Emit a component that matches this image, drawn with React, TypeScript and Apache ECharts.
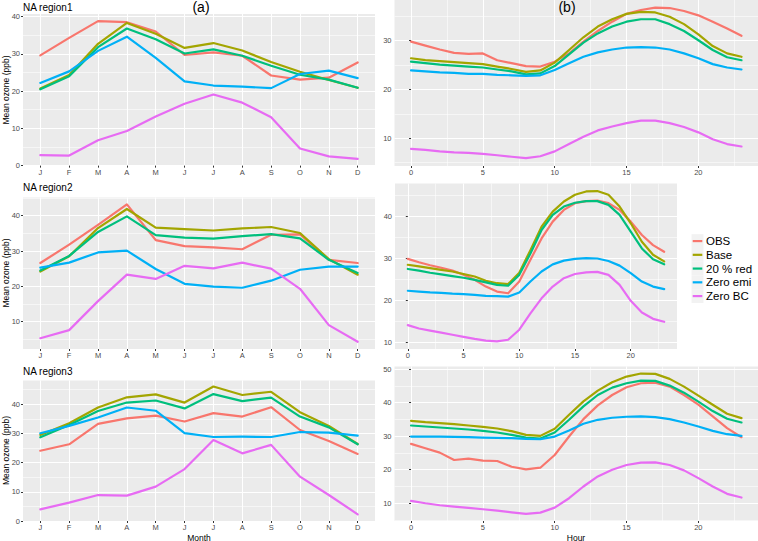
import React, { useEffect, useRef } from 'react';
import * as echarts from 'echarts';

const seriesNames = ['OBS', 'Base', '20 % red', 'Zero emi', 'Zero BC'];
const seriesColors = ['#F8766D', '#A3A500', '#00BF7D', '#00B0F6', '#E76BF3'];

const monthLabels = ['J', 'F', 'M', 'A', 'M', 'J', 'J', 'A', 'S', 'O', 'N', 'D'];
const months = [1, 2, 3, 4, 5, 6, 7, 8, 9, 10, 11, 12];
const hours = [0, 1, 2, 3, 4, 5, 6, 7, 8, 9, 10, 11, 12, 13, 14, 15, 16, 17, 18, 19, 20, 21, 22, 23];
const hourTicks = [0, 5, 10, 15, 20];
const hourMinorTicks = [2.5, 7.5, 12.5, 17.5, 22.5];

// (a) monthly means, NA region1
const r1mOBS = [29.6, 34.3, 38.8, 38.5, 36.0, 29.7, 30.4, 29.5, 24.2, 23.1, 23.6, 27.7];
const r1mBase = [20.7, 24.3, 32.7, 38.3, 35.4, 31.6, 32.9, 30.9, 27.8, 25.2, 23.0, 20.9];
const r1mRed = [20.5, 24.0, 31.8, 36.8, 33.9, 30.1, 31.2, 29.5, 26.8, 24.4, 23.1, 20.9];
const r1mEmi = [22.2, 25.3, 30.8, 34.6, 28.9, 22.6, 21.5, 21.2, 20.8, 24.6, 25.5, 23.5];
const r1mBC = [2.8, 2.7, 6.8, 9.3, 13.2, 16.6, 19.1, 16.9, 13.0, 4.6, 2.5, 1.8];

// (a) monthly means, NA region2
const r2mOBS = [26.6, 31.8, 37.4, 43.2, 33.1, 31.4, 31.0, 30.5, 34.6, 34.7, 27.5, 26.6];
const r2mBase = [24.2, 28.5, 36.5, 41.9, 36.6, 36.2, 35.8, 36.4, 36.8, 35.1, 27.7, 23.3];
const r2mRed = [24.5, 28.6, 35.4, 39.8, 34.5, 33.8, 33.5, 34.2, 34.8, 33.6, 27.5, 23.8];
const r2mEmi = [25.3, 26.7, 29.6, 30.1, 24.9, 20.7, 19.9, 19.6, 21.6, 24.7, 25.6, 25.6];
const r2mBC = [5.3, 7.6, 15.8, 23.3, 22.1, 25.8, 25.1, 26.7, 25.0, 19.3, 9.0, 4.3];

// (a) monthly means, NA region3
const r3mOBS = [24.1, 26.3, 33.3, 35.2, 36.1, 34.1, 37.0, 35.8, 39.0, 31.2, 27.4, 23.0];
const r3mBase = [29.5, 33.5, 38.9, 42.4, 43.4, 40.6, 46.1, 43.2, 44.3, 37.3, 32.6, 26.4];
const r3mRed = [28.7, 32.9, 37.7, 40.6, 41.3, 38.6, 43.5, 41.1, 42.3, 35.8, 32.1, 26.3];
const r3mEmi = [30.1, 32.6, 35.5, 38.9, 37.8, 30.1, 28.8, 28.9, 28.8, 30.5, 30.3, 29.3];
const r3mBC = [4.0, 6.3, 8.9, 8.7, 11.8, 17.8, 27.8, 23.2, 26.1, 15.2, 8.9, 2.3];

// (b) hourly means, NA region1
const r1hOBS = [29.8, 29.0, 28.2, 27.5, 27.3, 27.4, 26.0, 25.4, 24.8, 24.7, 25.7, 27.4, 29.8, 32.0, 33.9, 35.5, 36.3, 36.8, 36.7, 36.1, 35.2, 33.9, 32.5, 31.0];
const r1hBase = [26.4, 26.0, 25.8, 25.6, 25.4, 25.2, 24.7, 24.2, 23.6, 23.9, 25.5, 28.1, 30.7, 32.9, 34.4, 35.5, 35.9, 35.8, 34.9, 33.4, 31.3, 28.9, 27.4, 26.7];
const r1hRed = [25.7, 25.4, 25.1, 24.9, 24.7, 24.5, 24.1, 23.7, 23.1, 23.3, 24.8, 27.2, 29.6, 31.5, 32.9, 33.9, 34.4, 34.4, 33.4, 32.0, 30.1, 28.1, 26.6, 26.0];
const r1hEmi = [23.9, 23.7, 23.5, 23.4, 23.2, 23.2, 23.0, 22.9, 22.8, 22.9, 24.0, 25.4, 26.7, 27.6, 28.2, 28.6, 28.7, 28.6, 28.2, 27.4, 26.4, 25.2, 24.5, 24.1];
const r1hBC = [7.8, 7.6, 7.3, 7.1, 7.0, 6.8, 6.5, 6.2, 5.9, 6.3, 7.3, 8.8, 10.3, 11.6, 12.4, 13.1, 13.6, 13.6, 13.1, 12.3, 11.2, 9.8, 8.8, 8.3];

// (b) hourly means, NA region2
const r2hOBS = [29.9, 29.1, 28.4, 27.8, 27.1, 26.1, 24.9, 23.3, 22.1, 21.7, 24.5, 29.7, 34.8, 38.8, 41.6, 43.2, 43.7, 43.8, 43.2, 41.6, 38.8, 35.6, 33.2, 31.6];
const r2hBase = [28.5, 28.1, 27.7, 27.3, 26.9, 26.3, 25.7, 24.7, 24.1, 23.9, 26.6, 32.0, 37.6, 41.2, 43.6, 45.2, 46.0, 46.1, 45.2, 42.4, 38.4, 34.0, 30.9, 29.3];
const r2hRed = [27.5, 27.1, 26.6, 26.2, 25.8, 25.4, 24.9, 24.3, 23.7, 23.5, 26.1, 31.2, 36.8, 40.4, 42.4, 43.3, 43.7, 43.7, 42.8, 40.4, 36.4, 32.4, 29.8, 28.6];
const r2hEmi = [22.3, 22.1, 21.9, 21.8, 21.6, 21.5, 21.3, 21.1, 21.0, 20.9, 21.9, 24.5, 26.9, 28.6, 29.5, 29.9, 30.1, 30.0, 29.4, 28.3, 26.5, 24.5, 23.3, 22.7];
const r2hBC = [14.1, 13.3, 12.8, 12.3, 11.8, 11.3, 10.8, 10.4, 10.2, 10.6, 13.0, 16.9, 20.5, 23.3, 25.3, 26.3, 26.7, 26.8, 26.1, 23.7, 19.9, 17.1, 15.6, 14.9];

// (b) hourly means, NA region3
const r3hOBS = [27.7, 26.4, 25.1, 22.9, 23.3, 22.7, 22.6, 20.9, 20.1, 20.6, 24.4, 29.9, 35.1, 39.2, 42.3, 44.6, 45.8, 46.0, 44.8, 42.3, 39.4, 35.9, 32.4, 29.7];
const r3hBase = [34.6, 34.2, 33.9, 33.6, 33.2, 32.8, 32.3, 31.5, 30.4, 30.1, 32.2, 36.4, 40.4, 43.6, 46.1, 47.8, 48.7, 48.6, 47.1, 44.8, 42.1, 39.4, 36.7, 35.4];
const r3hRed = [33.2, 32.9, 32.6, 32.3, 32.0, 31.6, 31.1, 30.4, 29.6, 29.3, 31.1, 34.9, 38.9, 42.3, 44.5, 45.8, 46.6, 46.5, 45.1, 43.0, 40.3, 37.5, 35.2, 34.1];
const r3hEmi = [29.9, 29.9, 29.9, 29.8, 29.7, 29.6, 29.5, 29.4, 29.2, 29.1, 29.9, 31.7, 33.7, 34.9, 35.5, 35.8, 35.9, 35.7, 35.1, 34.1, 32.9, 31.6, 30.6, 30.1];
const r3hBC = [10.7, 10.0, 9.4, 9.0, 8.6, 8.2, 7.8, 7.3, 6.8, 7.2, 8.7, 11.5, 15.0, 18.0, 20.0, 21.4, 22.1, 22.2, 21.4, 19.8, 17.5, 15.0, 12.8, 11.7];

const FONT = 'Liberation Sans, Arial, Helvetica, sans-serif';

type Panel = {
  grid: { left: number; top: number; width: number; height: number };
  monthly: boolean;
  yRange: [number, number];
  yMajor: number[];
  yMinor: number[];
  values: number[][];
};

const panels: Panel[] = [
  { grid: { left: 23, top: 14, width: 352, height: 152 }, monthly: true, yRange: [-0.1, 40.7], yMajor: [0, 10, 20, 30, 40], yMinor: [5, 15, 25, 35], values: [r1mOBS, r1mBase, r1mRed, r1mEmi, r1mBC] },
  { grid: { left: 23, top: 197.5, width: 352, height: 151.5 }, monthly: true, yRange: [2.25, 45.15], yMajor: [10, 20, 30, 40], yMinor: [5, 15, 25, 35, 45], values: [r2mOBS, r2mBase, r2mRed, r2mEmi, r2mBC] },
  { grid: { left: 23, top: 380.4, width: 352, height: 140.6 }, monthly: true, yRange: [0, 48.2], yMajor: [0, 10, 20, 30, 40], yMinor: [5, 15, 25, 35, 45], values: [r3mOBS, r3mBase, r3mRed, r3mEmi, r3mBC] },
  { grid: { left: 394.5, top: 0, width: 363.5, height: 166 }, monthly: false, yRange: [4.3, 38.35], yMajor: [10, 20, 30], yMinor: [5, 15, 25, 35], values: [r1hOBS, r1hBase, r1hRed, r1hEmi, r1hBC] },
  { grid: { left: 395, top: 183.5, width: 282, height: 165.5 }, monthly: false, yRange: [8.4, 47.9], yMajor: [10, 20, 30, 40], yMinor: [15, 25, 35, 45], values: [r2hOBS, r2hBase, r2hRed, r2hEmi, r2hBC] },
  { grid: { left: 394.5, top: 366.5, width: 363.5, height: 154.5 }, monthly: false, yRange: [4.7, 50.8], yMajor: [10, 20, 30, 40, 50], yMinor: [5, 15, 25, 35, 45], values: [r3hOBS, r3hBase, r3hRed, r3hEmi, r3hBC] },
];

const GRID_BG = '#EBEBEB';
const MAJOR = { color: '#FFFFFF', width: 1.1 };
const MINOR = { color: '#FFFFFF', width: 0.55 };
const labelStyle = { fontSize: 7.5, color: '#4D4D4D', fontFamily: FONT };

function buildOption() {
  const grids: any[] = [];
  const xAxes: any[] = [];
  const yAxes: any[] = [];
  const series: any[] = [];

  panels.forEach((p, i) => {
    grids.push({ ...p.grid, show: true, backgroundColor: GRID_BG, borderWidth: 0, containLabel: false });
    const xMin = p.monthly ? 0.4 : -1.15;
    const xMax = p.monthly ? 12.6 : 24.15;
    const xMajor = p.monthly ? months : hourTicks;
    const xMinor = p.monthly ? [] : hourMinorTicks;

    // primary x axis
    xAxes.push({
      type: 'value', gridIndex: i, min: xMin, max: xMax,
      axisLine: { show: false },
      axisTick: { show: true, length: 2, lineStyle: { color: '#333333', width: 1 }, customValues: xMajor },
      axisLabel: {
        show: true, customValues: xMajor, margin: 2.5, ...labelStyle,
        formatter: (v: number) => (p.monthly ? monthLabels[Math.round(v) - 1] : String(v)),
      },
      splitLine: { show: true, lineStyle: MAJOR },
    });
    // minor x axis (grid lines only)
    xAxes.push({
      type: 'value', gridIndex: i, min: xMin, max: xMax,
      axisLine: { show: false },
      axisTick: { show: false, customValues: xMinor.length ? xMinor : [xMin - 10] },
      axisLabel: { show: false },
      splitLine: { show: xMinor.length > 0, lineStyle: MINOR },
    });
    // primary y axis
    yAxes.push({
      type: 'value', gridIndex: i, min: p.yRange[0], max: p.yRange[1],
      axisLine: { show: false },
      axisTick: { show: true, length: 2, lineStyle: { color: '#333333', width: 1 }, customValues: p.yMajor },
      axisLabel: { show: true, customValues: p.yMajor, margin: 3, ...labelStyle },
      splitLine: { show: true, lineStyle: MAJOR },
    });
    // minor y axis
    yAxes.push({
      type: 'value', gridIndex: i, min: p.yRange[0], max: p.yRange[1],
      axisLine: { show: false },
      axisTick: { show: false, customValues: p.yMinor },
      axisLabel: { show: false },
      splitLine: { show: true, lineStyle: MINOR },
    });

    const xs = p.monthly ? months : hours;
    p.values.forEach((vals, k) => {
      series.push({
        type: 'line',
        name: seriesNames[k],
        xAxisIndex: 2 * i,
        yAxisIndex: 2 * i,
        data: xs.map((x, j) => [x, vals[j]]),
        showSymbol: false,
        symbol: 'none',
        silent: true,
        z: 3,
        lineStyle: { width: 2.2, color: seriesColors[k], cap: 'round', join: 'round' },
        itemStyle: { color: seriesColors[k] },
      });
    });
  });

  const graphic: any[] = [];
  const txt = (x: number, y: number, text: string, size: number, extra: any = {}) => ({
    type: 'text', x, y, z: 100, silent: true,
    style: { text, fontSize: size, fontFamily: FONT, fill: '#000000', textAlign: 'left', textVerticalAlign: 'middle', ...extra },
    ...(extra.rotation !== undefined ? { rotation: extra.rotation } : {}),
  });

  graphic.push(txt(23, 7.5, 'NA region1', 10));
  graphic.push(txt(23, 187.5, 'NA region2', 10));
  graphic.push(txt(23, 371.5, 'NA region3', 10));
  graphic.push(txt(201, 7, '(a)', 14, { textAlign: 'center' }));
  graphic.push(txt(567, 7, '(b)', 14, { textAlign: 'center' }));
  graphic.push(txt(199, 537.5, 'Month', 8.5, { textAlign: 'center' }));
  graphic.push(txt(576, 537.5, 'Hour', 8.5, { textAlign: 'center' }));
  [90, 273, 450.5].forEach((cy) => {
    graphic.push({
      type: 'text', x: 5.5, y: cy, rotation: Math.PI / 2, z: 100, silent: true,
      style: { text: 'Mean ozone (ppb)', fontSize: 8.5, fontFamily: FONT, fill: '#000000', textAlign: 'center', textVerticalAlign: 'middle' },
    });
  });

  // legend
  const rowH = 13.75;
  const top0 = 234.2;
  seriesNames.forEach((name, k) => {
    const cy = top0 + k * rowH + rowH / 2;
    graphic.push({ type: 'rect', z: 90, silent: true, shape: { x: 691.5, y: top0 + k * rowH, width: 12, height: rowH }, style: { fill: '#F2F2F2' } });
    graphic.push({ type: 'line', z: 91, silent: true, shape: { x1: 692.7, y1: cy, x2: 702.3, y2: cy }, style: { stroke: seriesColors[k], lineWidth: 2.2 } });
    graphic.push(txt(706, cy, name, 11.5));
  });

  return {
    animation: false,
    backgroundColor: '#FFFFFF',
    textStyle: { fontFamily: FONT },
    grid: grids,
    xAxis: xAxes,
    yAxis: yAxes,
    series,
    graphic,
  };
}

export default function App() {
  const ref = useRef<HTMLDivElement>(null);
  useEffect(() => {
    if (!ref.current) return;
    const chart = echarts.init(ref.current, undefined, { renderer: 'svg' });
    chart.setOption(buildOption() as any);
    return () => chart.dispose();
  }, []);
  return <div ref={ref} style={{ position: 'fixed', left: 0, top: 0, width: 758, height: 541 }} />;
}
